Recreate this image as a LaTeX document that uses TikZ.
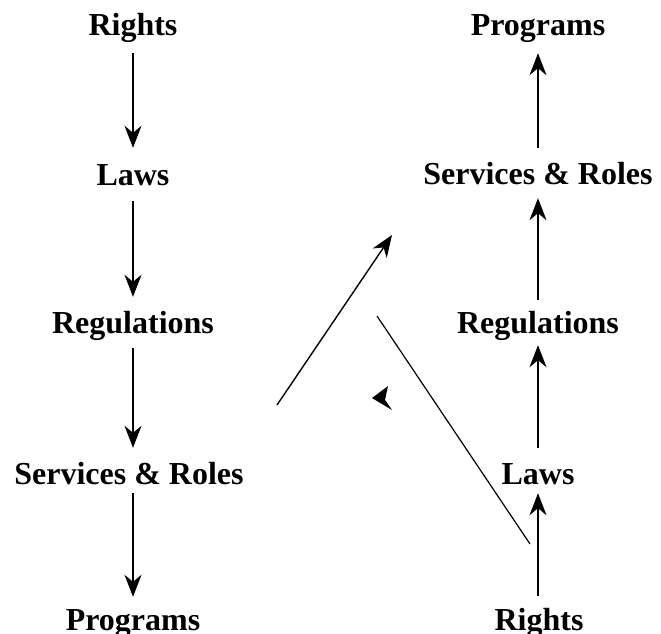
\documentclass[tikz,border=0pt]{standalone}
\usepackage{fontspec}
\setmainfont{Liberation Serif}
\usetikzlibrary{arrows.meta}
\tikzset{
  lbl/.style={font=\fontsize{32}{36}\selectfont\bfseries, inner sep=0pt, text height=22pt, text depth=0pt, anchor=base},
  arr/.style={line width=1.4pt, -{Stealth[length=22pt,width=17pt,inset=7pt]}},
  plain/.style={line width=1.2pt}
}
\begin{document}
\begin{tikzpicture}[x=1pt,y=-1pt]
\useasboundingbox (0,0) rectangle (661,634);
% left column
\node[lbl] (lR) at (133,36) {Rights};
\node[lbl] (lL) at (133,185) {Laws};
\node[lbl] (lG) at (133,333) {Regulations};
\node[lbl] (lS) at (129,484) {Services \& Roles};
\node[lbl] (lP) at (133,630) {Programs};
% right column
\node[lbl] (rP) at (538,36) {Programs};
\node[lbl] (rS) at (538,184) {Services \& Roles};
\node[lbl] (rG) at (538,333) {Regulations};
\node[lbl] (rL) at (538,484) {Laws};
\node[lbl] (rR) at (539,630) {Rights};
% left arrows
\draw[arr, shorten <=17pt, shorten >=15pt] (lR.south) -- (lL.north);
\draw[arr, shorten <=16pt, shorten >=14pt] (lL.south) -- (lG.north);
\draw[arr, shorten <=15pt, shorten >=14pt] (lG.south) -- (lS.north -| lG.south);
\draw[arr, shorten <=9pt, shorten >=11pt] (lS.south -| lG.south) -- (lP.north);
% right arrows
\draw[arr, shorten <=12pt, shorten >=9pt] (rR.north -| rL.south) -- (rL.south);
\draw[arr, shorten <=14pt, shorten >=12pt] (rL.north) -- (rG.south);
\draw[arr, shorten <=11pt, shorten >=14pt] (rG.north) -- (rS.south);
\draw[arr, shorten <=14pt, shorten >=17pt] (rS.north) -- (rP.south);
% diagonals
\coordinate (d1a) at (277,405);
\coordinate (d1b) at (392,235);
\draw[arr] (d1a) -- (d1b);
\coordinate (d2a) at (377,316);
\coordinate (d2b) at (530,544);
\draw[plain] (d2a) -- (d2b);
% detached arrowhead
\fill (372,398) -- (388,386) -- (385,400) -- (392,410) -- cycle;
\end{tikzpicture}
\end{document}
